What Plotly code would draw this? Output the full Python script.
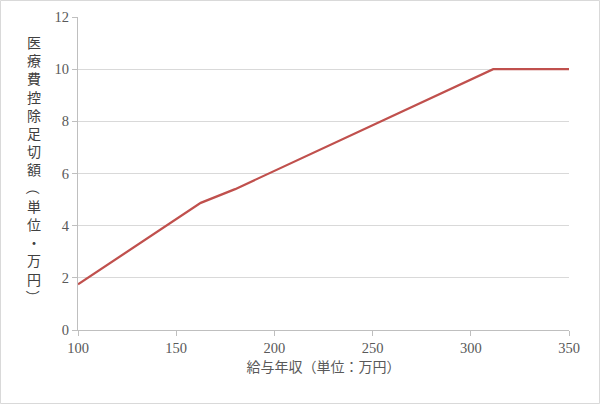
import plotly.graph_objects as go

# 給与年収 (万円) と 医療費控除の足切額 (万円)
salary = [100, 162.5, 180, 311.4, 350]
threshold = [1.75, 4.875, 5.4, 10, 10]

x_ticks = [100, 150, 200, 250, 300, 350]
y_ticks = [0, 2, 4, 6, 8, 10, 12]

x_title = "給与年収（単位：万円）"
y_title_chars = ["医", "療", "費", "控", "除", "足", "切", "額", "（", "単", "位", "・", "万", "円", "）"]

fig = go.Figure()
fig.add_trace(go.Scatter(x=salary, y=threshold, mode="lines",
                         line=dict(color="#C0504D", width=2.25),
                         showlegend=False, hoverinfo="skip"))

tick_font = dict(family="Liberation Serif, Noto Sans CJK JP", size=14.5, color="#595959")

fig.update_xaxes(range=[100, 350], tickvals=x_ticks, ticks="outside", ticklen=5,
                 tickcolor="#BFBFBF", showline=True, linecolor="#BFBFBF", linewidth=1,
                 showgrid=False, zeroline=False, tickfont=tick_font, automargin=False,
                 title=dict(text=x_title, font=dict(family="Noto Sans CJK JP", size=14, color="#595959"),
                            standoff=4))
fig.update_yaxes(range=[0, 12], tickvals=y_ticks, ticks="outside", ticklen=5,
                 tickcolor="#BFBFBF", showline=True, linecolor="#BFBFBF", linewidth=1,
                 showgrid=True, gridcolor="#D9D9D9", gridwidth=1, zeroline=False,
                 tickfont=tick_font, automargin=False)

# vertical y-axis title: upright characters, brackets turned 90 degrees
plot_h = 313
title_font = dict(family="Noto Sans CJK JP", size=14, color="#404040")
line_h = 14 * 1.3
center_px = 169.5  # from top of the plot area's top margin line
upright = ["　" if c in "（）" else c for c in y_title_chars]
fig.add_annotation(text="<br>".join(upright), xref="paper", yref="paper",
                   x=-44 / 491, y=1 - (center_px - 17) / plot_h, xanchor="center", yanchor="middle",
                   showarrow=False, align="center", font=title_font)
for i, c in enumerate(y_title_chars):
    if c in "（）":
        ypx = center_px + (i - (len(y_title_chars) - 1) / 2) * line_h
        fig.add_annotation(text=c, xref="paper", yref="paper", textangle=90,
                           x=-44 / 491, y=1 - (ypx - 17) / plot_h,
                           xanchor="center", yanchor="middle", showarrow=False,
                           font=title_font)

# outer frame
fig.add_shape(type="rect", xref="paper", yref="paper",
              x0=-77.5 / 491, x1=1 + 30.5 / 491, y0=-73.5 / plot_h, y1=1 + 16.5 / plot_h,
              line=dict(color="#D9D9D9", width=1))

fig.update_layout(width=600, height=404, margin=dict(l=78, r=31, t=17, b=74),
                  plot_bgcolor="white", paper_bgcolor="white")

fig.write_html("out.html", config={"displayModeBar": False},
               post_script="document.body.style.margin='0px';")
